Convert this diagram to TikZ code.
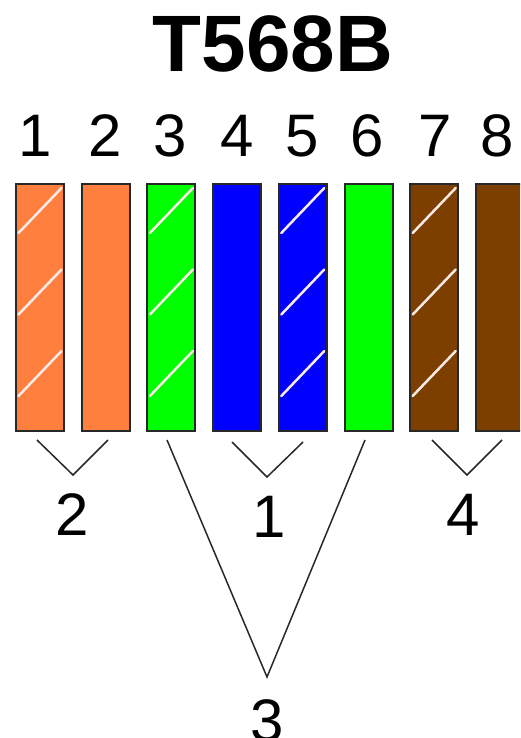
\documentclass[tikz,border=0pt]{standalone}
\usepackage{fontspec}
\setmainfont{Liberation Sans}
\usetikzlibrary{calc}
\definecolor{wOrange}{RGB}{255,127,63}
\definecolor{wGreen}{RGB}{0,255,0}
\definecolor{wBlue}{RGB}{0,0,255}
\definecolor{wBrown}{RGB}{125,63,0}
\definecolor{edgegray}{RGB}{40,40,40}
\definecolor{stripewhite}{RGB}{250,235,230}
\begin{document}
\begin{tikzpicture}[x=1pt,y=-1pt,
  wire/.style={draw=edgegray, line width=2pt, minimum width=48pt, minimum height=247pt, inner sep=0pt, outer sep=0pt},
  num/.style={font=\fontsize{60}{72}\selectfont, inner sep=0pt, anchor=base},
  stripe/.style={draw=stripewhite, line width=2.5pt, line cap=round},
  pairline/.style={draw=edgegray, line width=1.5pt}]
\useasboundingbox (0,0) rectangle (520,738);
\clip (0,0) rectangle (520,738);
% title
\node[font=\bfseries\fontsize{80}{96}\selectfont, inner sep=0pt, anchor=base] (title) at (273,72) {T568B};
% pin numbers
\node[num] (n1) at (35,157) {1};
\node[num] (n2) at (105,157) {2};
\node[num] (n3) at (170,157) {3};
\node[num] (n4) at (237,157) {4};
\node[num] (n5) at (302,157) {5};
\node[num] (n6) at (367,157) {6};
\node[num] (n7) at (435,157) {7};
\node[num] (n8) at (497,157) {8};
% wires
\node[wire, fill=wOrange] (b1) at (40,307.5) {};
\node[wire, fill=wOrange] (b2) at (105.7,307.5) {};
\node[wire, fill=wGreen] (b3) at (171.4,307.5) {};
\node[wire, fill=wBlue] (b4) at (237.1,307.5) {};
\node[wire, fill=wBlue] (b5) at (302.8,307.5) {};
\node[wire, fill=wGreen] (b6) at (368.5,307.5) {};
\node[wire, fill=wBrown] (b7) at (434.2,307.5) {};
\node[wire, fill=wBrown] (b8) at (499.9,307.5) {};
% stripes
\foreach \i in {1,3,5,7}{
  \foreach \d in {4,85.5,167}{
    \draw[stripe] ($(b\i.north west)+(2.5,\d+45)$) -- ($(b\i.north east)+(-2.5,\d)$);
  }
}
% pair brackets
\coordinate (p2a) at (37,440);  \coordinate (v2) at (73,475);  \coordinate (p2b) at (108,440);
\coordinate (p1a) at (232,442); \coordinate (v1) at (267,477); \coordinate (p1b) at (303,442);
\coordinate (p4a) at (432,440); \coordinate (v4) at (467,475); \coordinate (p4b) at (502,440);
\coordinate (p3a) at (167,440); \coordinate (v3) at (267,677); \coordinate (p3b) at (365,440);
\draw[pairline] (p2a) -- (v2) -- (p2b);
\draw[pairline] (p1a) -- (v1) -- (p1b);
\draw[pairline] (p4a) -- (v4) -- (p4b);
\draw[pairline] (p3a) -- (v3) -- (p3b);
% pair labels
\node[num] (l2) at (72,535) {2};
\node[num] (l1) at (269,537) {1};
\node[num] (l4) at (463,535) {4};
\node[num] (l3) at (267,741) {3};
\end{tikzpicture}
\end{document}
